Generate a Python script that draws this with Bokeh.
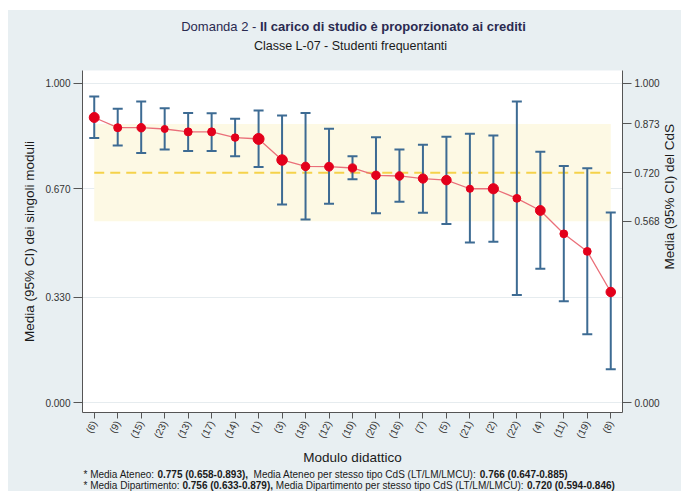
from math import pi

from bokeh.plotting import figure
from bokeh.layouts import column, row
from bokeh.models import (ColumnDataSource, FactorRange, Range1d, LinearAxis,
                          FixedTicker, NumeralTickFormatter)
from bokeh.core.properties import value
from bokeh.embed import file_html
from bokeh.resources import INLINE

# ---------------------------------------------------------------- dati
moduli = ["(6)", "(9)", "(15)", "(23)", "(13)", "(17)", "(14)", "(1)", "(3)",
          "(18)", "(12)", "(10)", "(20)", "(16)", "(7)", "(5)", "(21)", "(2)",
          "(22)", "(4)", "(11)", "(19)", "(8)"]
media = [0.893, 0.861, 0.861, 0.857, 0.848, 0.848, 0.830, 0.826, 0.760,
         0.740, 0.739, 0.735, 0.712, 0.710, 0.702, 0.697, 0.670, 0.670,
         0.640, 0.602, 0.529, 0.474, 0.347]
ci_inf = [0.829, 0.805, 0.782, 0.793, 0.788, 0.788, 0.772, 0.738, 0.621,
          0.574, 0.623, 0.700, 0.593, 0.629, 0.595, 0.560, 0.502, 0.504,
          0.338, 0.420, 0.318, 0.215, 0.105]
ci_sup = [0.959, 0.920, 0.943, 0.922, 0.907, 0.906, 0.889, 0.915, 0.899,
          0.907, 0.858, 0.772, 0.831, 0.793, 0.808, 0.833, 0.842, 0.837,
          0.943, 0.786, 0.741, 0.734, 0.596]

# media del CdS con intervallo
cds_media = 0.720
cds_inf = 0.568
cds_sup = 0.873

tick_moduli = [0.000, 0.330, 0.670, 1.000]

# riferimenti riportati in nota
ateneo = (0.775, 0.658, 0.893)
ateneo_tipo = (0.766, 0.647, 0.885)
dipartimento = (0.756, 0.633, 0.879)
dipartimento_tipo = (0.720, 0.594, 0.846)

titolo_domanda = "Domanda 2 -"
titolo_testo = "Il carico di studio è proporzionato ai crediti"
sottotitolo = "Classe L-07 - Studenti frequentanti"

# ---------------------------------------------------------------- stile
diametro = [10, 8, 8.5, 7, 8, 8, 7.5, 11, 10.5, 8.5, 8.8, 8.2, 8.5, 8.5,
            9.2, 9.5, 7.2, 10.2, 7.8, 9.8, 7.8, 7.8, 9.5]

FONT = "Liberation Sans"
PANNELLO = "#e8eff2"
BLU = "#3d6b93"
ROSSO = "#e3001b"
ROSA = "#ea6f79"
GIALLO = "#f5d24a"
FASCIA = "#fdf9e4"
ASSE = "#555555"
TESTO = "#1a1a1a"

W_TOT = 673                      # larghezza complessiva del pannello
H_TESTA, H_NOTE = 60, 23         # fasce di titolo e note
W_MAIN, H_MAIN = 654, 398        # grafico principale
W_DX = W_TOT - W_MAIN            # fascia del titolo dell'asse destro
B_L, B_R, B_T, B_B = 74, 38, 0, 56
Y0, Y1 = -0.030, 1.040

# larghezze dei caratteri (metriche Arial / Liberation Sans, unità 1/1000 em)
LARG_REG = {" ": 278, "*": 389, "(": 333, ")": 333, ",": 278, "-": 333,
            ".": 278, "/": 278, ":": 278, "%": 889,
            "A": 667, "C": 722, "D": 722, "I": 278, "L": 556, "M": 833,
            "S": 667, "T": 611, "U": 722,
            "a": 556, "c": 500, "d": 556, "e": 556, "f": 278, "g": 556,
            "i": 222, "l": 222, "m": 833, "n": 556, "o": 556, "p": 556,
            "q": 556, "r": 333, "s": 500, "t": 278, "u": 556, "z": 500,
            "è": 556}
LARG_BOLD = {" ": 278, "(": 333, ")": 333, ",": 278, "-": 333, ".": 278,
             "I": 278, "l": 278, "c": 556, "a": 556, "r": 389, "i": 278,
             "o": 611, "d": 611, "s": 556, "t": 333, "u": 611, "è": 556,
             "p": 611, "z": 500, "n": 611, "e": 556}


def larghezza(testo, px, grassetto=False):
    tab = LARG_BOLD if grassetto else LARG_REG
    return sum(tab.get(c, 556) for c in testo) * px / 1000.0


def fascia_testo(w, h):
    """figura senza assi, coordinate in pixel, per i testi fuori dal grafico"""
    f = figure(width=w, height=h, x_range=Range1d(0, w), y_range=Range1d(0, h),
               output_backend="svg", toolbar_location=None,
               x_axis_location=None, y_axis_location=None, min_border=0,
               background_fill_color=PANNELLO, border_fill_color=PANNELLO,
               outline_line_color=None)
    f.grid.visible = False
    return f


def testo(f, x, y_dall_alto, t, px, grassetto=False, colore=TESTO,
          allinea="left", angolo=0.0):
    f.text(x=[x], y=[f.height - y_dall_alto], text=[t], angle=angolo,
           text_font=value(FONT), text_font_size=value(f"{px}px"),
           text_font_style=value("bold" if grassetto else "normal"),
           text_align=value(allinea), text_baseline=value("middle"),
           text_color=colore)


def riga(f, parti, x0, y_dall_alto, px, colore=TESTO):
    """riga con tratti normali e in grassetto affiancati"""
    x = x0
    for t, grassetto in parti:
        corpo = t.lstrip()
        xt = x + larghezza(t[:len(t) - len(corpo)], px, grassetto)
        testo(f, xt, y_dall_alto, corpo.rstrip(), px, grassetto, colore)
        x += larghezza(t, px, grassetto)


# ---------------------------------------------------------------- titolo
testa = fascia_testo(W_TOT, H_TESTA)
parti_titolo = [(titolo_domanda + " ", False), (titolo_testo, True)]
tot = sum(larghezza(t, 13, b) for t, b in parti_titolo)
riga(testa, parti_titolo, 345 - tot / 2, 16, 13, "#2a2a50")
testo(testa, 342, 35, sottotitolo, 12.5, allinea="center")

# ---------------------------------------------------------------- grafico
p = figure(width=W_MAIN, height=H_MAIN,
           x_range=FactorRange(factors=moduli, range_padding=0),
           y_range=Range1d(Y0, Y1),
           output_backend="svg", toolbar_location=None,
           min_border_left=B_L, min_border_right=B_R,
           min_border_top=B_T, min_border_bottom=B_B,
           background_fill_color="white", border_fill_color=PANNELLO,
           outline_line_color=None)

src = ColumnDataSource(dict(modulo=moduli, media=media, inf=ci_inf,
                            sup=ci_sup, diam=diametro))

# fascia e media del CdS
p.quad(left=[moduli[0]], right=[moduli[-1]], bottom=[cds_inf], top=[cds_sup],
       fill_color=FASCIA, line_color=None)
p.segment(x0=[moduli[0]], x1=[moduli[-1]], y0=[cds_media], y1=[cds_media],
          line_color=GIALLO, line_width=2, line_dash="10 6")

# intervalli di confidenza dei moduli
p.segment(x0="modulo", y0="inf", x1="modulo", y1="sup", source=src,
          line_color=BLU, line_width=2)
p.scatter(x="modulo", y="inf", source=src, marker="dash", size=10,
          line_color=BLU, line_width=2)
p.scatter(x="modulo", y="sup", source=src, marker="dash", size=10,
          line_color=BLU, line_width=2)

# medie dei moduli
p.line(x="modulo", y="media", source=src, line_color=ROSA, line_width=1.3)
p.scatter(x="modulo", y="media", source=src, size="diam",
          fill_color=ROSSO, line_color=ROSSO)

formato = NumeralTickFormatter(format="0.000")

ax = p.xaxis[0]
ax.axis_label = "Modulo didattico"
ax.major_label_orientation = 1.1
ax.major_tick_out = 6
ax.major_tick_in = 0
ax.major_label_standoff = 3
ax.axis_label_standoff = 5

ay = p.yaxis[0]
ay.ticker = FixedTicker(ticks=tick_moduli)
ay.formatter = formato
ay.axis_label = "Media (95% CI) dei singoli moduli"
ay.major_tick_out = 9
ay.major_tick_in = 0
ay.minor_tick_line_color = None
ay.major_label_standoff = 3
ay.axis_label_standoff = 5

ay2 = LinearAxis(ticker=FixedTicker(ticks=[0.0, cds_inf, cds_media, cds_sup, 1.0]),
                 formatter=formato)
ay2.major_tick_out = 9
ay2.major_tick_in = 0
ay2.minor_tick_line_color = None
ay2.major_label_standoff = 3
p.add_layout(ay2, "right")

for a in (ax, ay, ay2):
    a.axis_line_color = ASSE
    a.major_tick_line_color = ASSE
    a.major_label_text_font = FONT
    a.major_label_text_font_size = "10px"
    a.major_label_text_color = "#333333"
    a.axis_label_text_font = FONT
    a.axis_label_text_font_size = "13.5px"
    a.axis_label_text_font_style = "normal"
    a.axis_label_text_color = TESTO

p.xgrid.visible = False
p.ygrid.ticker = FixedTicker(ticks=tick_moduli)
p.ygrid.grid_line_color = "#e6ecef"

# titolo dell'asse destro
destra = fascia_testo(W_DX, H_MAIN)
testo(destra, 7, 147, "Media (95% CI) del CdS", 13.5, allinea="center",
      angolo=pi / 2)

# ---------------------------------------------------------------- note
note = fascia_testo(W_TOT, H_NOTE)


def fmt(t):
    return f"{t[0]:.3f} ({t[1]:.3f}-{t[2]:.3f})"


nota1 = [("* Media Ateneo: ", False), (fmt(ateneo) + ",", True),
         ("  Media Ateneo per stesso tipo CdS (LT/LM/LMCU): ", False),
         (fmt(ateneo_tipo), True)]
nota2 = [("* Media Dipartimento: ", False), (fmt(dipartimento) + ",", True),
         (" Media Dipartimento per stesso tipo CdS (LT/LM/LMCU): ", False),
         (fmt(dipartimento_tipo), True)]
riga(note, nota1, 75, 5.5, 10)
riga(note, nota2, 75, 17, 10)

pagina = column(testa, row(p, destra, styles={"background-color": PANNELLO}),
                note, margin=(10, 0, 0, 8),
                styles={"background-color": PANNELLO})

open("out.html", "w").write(file_html(pagina, INLINE))
